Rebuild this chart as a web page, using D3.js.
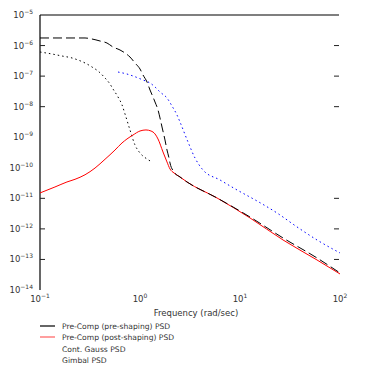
<!DOCTYPE html>
<html>
<head>
<meta charset="utf-8">
<script src="https://cdn.jsdelivr.net/npm/d3@7"></script>
<style>
  html, body { margin: 0; padding: 0; background: #fff; }
  svg { display: block; font-family: "DejaVu Sans", sans-serif; }
</style>
</head>
<body>
<svg id="chart" width="366" height="382"></svg>
<script>
// ---- data ----
const yTickExponents = [-5, -6, -7, -8, -9, -10, -11, -12, -13, -14];
const yTickMarkExponents = [-6, -7, -8, -11, -12, -13];
const xTickExponents = [-1, 0, 1, 2];
const xTitle = "Frequency (rad/sec)";
const legendLabels = ["Pre-Comp (pre-shaping) PSD", "Pre-Comp (post-shaping) PSD", "Cont. Gauss PSD", "Gimbal PSD"];

const preFreq = [0.1, 0.282, 0.331, 0.398, 0.468, 0.537, 0.631, 0.708, 0.794, 0.891, 1.0, 1.072, 1.175, 1.259, 1.349, 1.413, 1.514, 1.585, 1.660, 1.778, 1.862, 1.950, 1.995, 2.188, 2.512, 2.951, 5.888, 12.59, 26.92, 58.88, 100];
const prePsd  = [1.77e-6, 1.77e-6, 1.64e-6, 1.41e-6, 1.21e-6, 8.97e-7, 7.16e-7, 5.71e-7, 4.22e-7, 2.69e-7, 1.71e-7, 1.09e-7, 6.42e-8, 3.51e-8, 2.07e-8, 1.42e-8, 7.79e-9, 4.26e-9, 2.16e-9, 8.12e-10, 3.82e-10, 2.09e-10, 1.44e-10, 7.29e-11, 5.00e-11, 3.43e-11, 1.03e-11, 2.45e-12, 5.05e-13, 1.12e-13, 3.61e-14];

const postFreq = [0.1, 0.141, 0.186, 0.224, 0.282, 0.355, 0.447, 0.562, 0.661, 0.741, 0.851, 1.0, 1.148, 1.288, 1.413, 1.514, 1.698, 1.862, 1.995, 2.188, 2.512, 2.951, 5.888, 12.59, 26.92, 58.88, 100];
const postPsd  = [1.50e-11, 2.35e-11, 3.43e-11, 4.20e-11, 5.90e-11, 9.80e-11, 1.90e-10, 3.80e-10, 6.50e-10, 8.76e-10, 1.18e-9, 1.60e-9, 1.73e-9, 1.60e-9, 1.28e-9, 8.76e-10, 3.29e-10, 1.55e-10, 9.14e-11, 6.76e-11, 5.00e-11, 3.43e-11, 1.03e-11, 2.28e-12, 4.34e-13, 9.62e-14, 3.35e-14];

const gaussFreq = [0.1, 0.132, 0.166, 0.209, 0.240, 0.282, 0.331, 0.380, 0.447, 0.501, 0.537, 0.603, 0.661, 0.708, 0.794, 0.891, 1.0, 1.175, 1.318];
const gaussPsd  = [6.16e-7, 5.29e-7, 4.55e-7, 3.92e-7, 3.37e-7, 2.69e-7, 1.99e-7, 1.47e-7, 8.68e-8, 5.52e-8, 3.79e-8, 2.07e-8, 1.14e-8, 5.76e-9, 1.73e-9, 5.57e-10, 3.05e-10, 1.94e-10, 1.55e-10];

const gimbalFreq = [0.603, 0.741, 0.851, 1.072, 1.259, 1.413, 1.585, 1.862, 2.089, 2.344, 2.512, 3.020, 3.548, 4.266, 6.310, 9.333, 14.79, 23.44, 37.15, 58.88, 100];
const gimbalPsd  = [1.36e-7, 1.17e-7, 1.01e-7, 7.46e-8, 5.96e-8, 4.41e-8, 3.02e-8, 1.92e-8, 1.05e-8, 5.34e-9, 3.15e-9, 6.99e-10, 2.09e-10, 8.47e-11, 3.99e-11, 1.88e-11, 8.20e-12, 3.32e-12, 1.16e-12, 4.34e-13, 1.63e-13];

// ---- layout ----
const svg = d3.select("#chart");
const pLeft = 40, pRight = 340, pTop = 15, pBottom = 290;
const fs = 8.5, sfs = 6, lfs = 7.6;

const x = d3.scaleLog().domain([0.1, 100]).range([pLeft, pRight]);
const y = d3.scaleLog().domain([1e-14, 1e-5]).range([pBottom, pTop]);

svg.append("rect").attr("width", 366).attr("height", 382).attr("fill", "#fff");

// frame: left and top lines
svg.append("line").attr("x1", pLeft).attr("x2", pLeft).attr("y1", pTop).attr("y2", pBottom)
  .attr("stroke", "#000").attr("stroke-width", 1.2);
svg.append("line").attr("x1", pLeft).attr("x2", pRight - 1).attr("y1", pTop).attr("y2", pTop)
  .attr("stroke", "#000").attr("stroke-width", 1.2);

// y tick marks (inside, both sides)
yTickMarkExponents.forEach(e => {
  const yy = y(Math.pow(10, e));
  svg.append("line").attr("x1", pLeft).attr("x2", pLeft + 5).attr("y1", yy).attr("y2", yy)
    .attr("stroke", "#222").attr("stroke-width", 1);
  svg.append("line").attr("x1", pRight - 6).attr("x2", pRight - 1).attr("y1", yy).attr("y2", yy)
    .attr("stroke", "#222").attr("stroke-width", 1);
});

// y tick labels
yTickExponents.forEach(e => {
  const yy = y(Math.pow(10, e));
  const t = svg.append("text").attr("x", 33).attr("y", yy + 3)
    .attr("text-anchor", "end").attr("font-size", fs).attr("fill", "#333");
  t.append("tspan").text("10");
  t.append("tspan").attr("dy", -4).attr("font-size", sfs).text(String(e).replace("-", "\u2212"));
});

// x tick labels
xTickExponents.forEach(e => {
  const xx = x(Math.pow(10, e));
  const t = svg.append("text").attr("x", xx).attr("y", 302)
    .attr("text-anchor", "middle").attr("font-size", fs).attr("fill", "#333");
  t.append("tspan").text("10");
  t.append("tspan").attr("dy", -4).attr("font-size", sfs).text(String(e).replace("-", "\u2212"));
});

svg.append("text").attr("x", 196).attr("y", 316).attr("text-anchor", "middle")
  .attr("font-size", fs).attr("fill", "#333").text(xTitle);

// ---- series ----
const line = d3.line().x(d => x(d[0])).y(d => y(d[1])).curve(d3.curveMonotoneX);
const zip = (a, b) => a.map((v, i) => [v, b[i]]);

svg.append("path").datum(zip(gaussFreq, gaussPsd)).attr("d", line)
  .attr("fill", "none").attr("stroke", "#000").attr("stroke-width", 1)
  .attr("stroke-dasharray", "1.5,3");
svg.append("path").datum(zip(gimbalFreq, gimbalPsd)).attr("d", line)
  .attr("fill", "none").attr("stroke", "#0000ff").attr("stroke-width", 1)
  .attr("stroke-dasharray", "1.5,3");
svg.append("path").datum(zip(postFreq, postPsd)).attr("d", line)
  .attr("fill", "none").attr("stroke", "#ff0000").attr("stroke-width", 1);
svg.append("path").datum(zip(preFreq, prePsd)).attr("d", line)
  .attr("fill", "none").attr("stroke", "#000").attr("stroke-width", 1)
  .attr("stroke-dasharray", "9,4");

// ---- legend ----
const legendY = [326, 337, 349, 360];
const legendColors = ["#000", "#ff6060", null, null];
legendLabels.forEach((lab, i) => {
  if (legendColors[i]) {
    svg.append("line").attr("x1", 40).attr("x2", 55).attr("y1", legendY[i]).attr("y2", legendY[i])
      .attr("stroke", legendColors[i]).attr("stroke-width", 1.2);
  }
  svg.append("text").attr("x", 62).attr("y", legendY[i] + 3)
    .attr("font-size", lfs).attr("fill", "#333").text(lab);
});
</script>
</body>
</html>
